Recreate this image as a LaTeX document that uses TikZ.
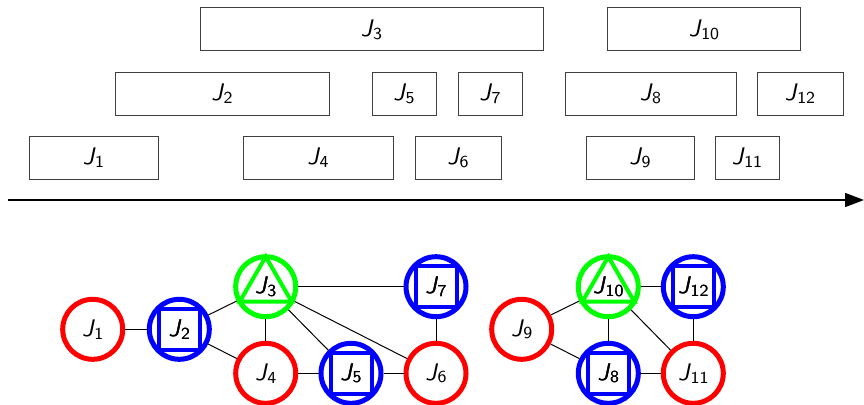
\documentclass[tikz,border=0pt]{standalone}
\usetikzlibrary{arrows.meta}
\newcommand\Jn[1]{\scalebox{2.4}{\textsf{\textit{J}\kern-0.2pt\raisebox{-1.2pt}{\fontsize{7}{8}\selectfont #1}}}}
\tikzset{
  lbl/.style={font=\normalsize},
  jobbox/.style={lbl, draw=black!75, line width=1pt, minimum height=43pt, inner sep=0pt},
  vert/.style={lbl, circle, line width=5pt, minimum size=60pt, inner sep=0pt, fill=white},
  rv/.style={vert, draw=red},
  bv/.style={vert, draw=blue},
  gv/.style={vert, draw=green},
  sq/.style={draw=blue, line width=4pt},
  tri/.style={draw=green, line width=4pt, line join=miter},
  edge/.style={draw=black, line width=1pt},
}
\begin{document}
\begin{tikzpicture}[x=1pt,y=-1pt]
\useasboundingbox (0,0) rectangle (864,404);
% time line boxes
\node[jobbox, minimum width=343pt] (b3) at (371.5,29.5) {\Jn{3}};
\node[jobbox, minimum width=193pt] (b10) at (704,29.5) {\Jn{10}};
\node[jobbox, minimum width=214pt] (b2) at (222,93.5) {\Jn{2}};
\node[jobbox, minimum width=64pt] (b5) at (404,93.5) {\Jn{5}};
\node[jobbox, minimum width=64pt] (b7) at (490,93.5) {\Jn{7}};
\node[jobbox, minimum width=171pt] (b8) at (650.5,93.5) {\Jn{8}};
\node[jobbox, minimum width=86pt] (b12) at (800,93.5) {\Jn{12}};
\node[jobbox, minimum width=129pt] (b1) at (93.5,157.5) {\Jn{1}};
\node[jobbox, minimum width=150pt] (b4) at (318,157.5) {\Jn{4}};
\node[jobbox, minimum width=86pt] (b6) at (458,157.5) {\Jn{6}};
\node[jobbox, minimum width=108pt] (b9) at (640,157.5) {\Jn{9}};
\node[jobbox, minimum width=64pt] (b11) at (747,157.5) {\Jn{11}};
% axis
\coordinate (axl) at (8,200);
\coordinate (axr) at (864,200);
\draw[line width=1.5pt, -{Triangle[length=19pt,width=14pt]}] (axl) -- (axr);
% graph nodes
\node[rv] (J1) at (92.7,329.3) {\Jn{1}};
\node[bv] (J2) at (179.3,329.3) {\Jn{2}};
\node[gv] (J3) at (265.7,286.7) {\Jn{3}};
\node[bv] (J7) at (436,286.7) {\Jn{7}};
\node[rv] (J4) at (265.7,373.3) {\Jn{4}};
\node[bv] (J5) at (351,373.3) {\Jn{5}};
\node[rv] (J6) at (436,373.3) {\Jn{6}};
\node[rv] (J9) at (521.7,329.3) {\Jn{9}};
\node[gv] (J10) at (608.3,286.7) {\Jn{10}};
\node[bv] (J12) at (693.3,286.7) {\Jn{12}};
\node[bv] (J8) at (608.3,373.3) {\Jn{8}};
\node[rv] (J11) at (693.3,373.3) {\Jn{11}};
% edges
\foreach \a/\b in {J1/J2,J2/J3,J2/J4,J3/J4,J3/J5,J3/J6,J3/J7,J4/J5,J5/J6,J7/J6,J9/J10,J9/J8,J10/J8,J10/J11,J10/J12,J8/J11,J12/J11}
  \draw[edge] (\a) -- (\b);
% inscribed squares
\foreach \n in {J2,J5,J7,J8,J12}
  \draw[sq] ([shift={(-20.5,-20.5)}]\n.center) rectangle ([shift={(20.5,20.5)}]\n.center);
% inscribed triangles
\foreach \n in {J3,J10}
  \draw[tri] ([shift={(0,-30)}]\n.center) -- ([shift={(26,15)}]\n.center) -- ([shift={(-26,15)}]\n.center) -- cycle;
% labels on top of the inner shapes
\foreach \n/\t in {J2/2,J5/5,J7/7,J8/8,J12/12,J3/3,J10/10}
  \node[lbl, inner sep=0pt] at (\n.center) {\Jn{\t}};
\end{tikzpicture}
\end{document}
